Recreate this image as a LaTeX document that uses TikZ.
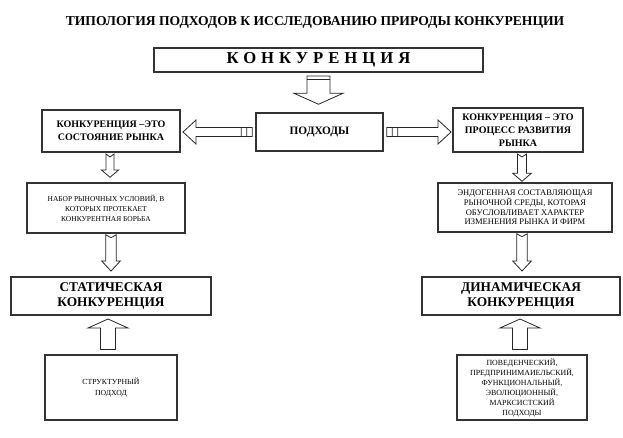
\documentclass[tikz,border=0pt]{standalone}
\usepackage{fontspec}
\setmainfont{Liberation Serif}
\usetikzlibrary{calc}
\tikzset{
  bigframe/.style={draw=black!80, line width=1.5pt, fill=white, inner sep=0pt, align=center},
  midframe/.style={draw=black!80, line width=1.1pt, fill=white, inner sep=0pt, align=center},
  lowframe/.style={draw=black!80, line width=0.9pt, fill=white, inner sep=0pt, align=center},
  arr/.style={draw=black!85, line width=0.6pt, fill=white, line join=miter},
}
\newcommand\ttlfont{\fontsize{10.2}{12}\selectfont\bfseries}
\newcommand\hdfont{\fontsize{7.5}{9.8}\selectfont\bfseries}
\newcommand\smfont{\fontsize{5.6}{7.5}\selectfont}
\newcommand\mdfont{\fontsize{6.4}{7.2}\selectfont}
\newcommand\bgfont{\fontsize{10}{10.8}\selectfont\bfseries}
% down arrow with notched tail: start, tip, shaft half, head half, head length
\newcommand\arrdown[5]{%
  \draw[arr] let \p1=(#1), \p2=(#2) in
   (\x1-#3,\y1) -- (\x1,\y1-2.2pt) -- (\x1+#3,\y1) -- (\x1+#3,\y2+#5) -- (\x1+#4,\y2+#5)
   -- (\x1,\y2) -- (\x1-#4,\y2+#5) -- (\x1-#3,\y2+#5) -- cycle;}
% up arrow: start (bottom), tip, shaft half, head half, head length
\newcommand\arrup[5]{%
  \draw[arr] let \p1=(#1), \p2=(#2) in
   (\x1-#3,\y1) -- (\x1+#3,\y1) -- (\x1+#3,\y2-#5) -- (\x1+#4,\y2-#5)
   -- (\x1,\y2) -- (\x1-#4,\y2-#5) -- (\x1-#3,\y2-#5) -- cycle;}
% left arrow with two small squares at the tail
\newcommand\arrleft[5]{%
  \draw[arr] let \p1=(#1), \p2=(#2) in
   (\x1,\y1+#3) -- (\x2+#5,\y1+#3) -- (\x2+#5,\y1+#4) -- (\x2,\y1) -- (\x2+#5,\y1-#4)
   -- (\x2+#5,\y1-#3) -- (\x1,\y1-#3) -- cycle
   (\x1,\y1-#3) rectangle (\x1+4.1pt,\y1+#3)
   (\x1+4.1pt,\y1-#3) rectangle (\x1+8.2pt,\y1+#3);}
\newcommand\arrright[5]{%
  \draw[arr] let \p1=(#1), \p2=(#2) in
   (\x1,\y1+#3) -- (\x2-#5,\y1+#3) -- (\x2-#5,\y1+#4) -- (\x2,\y1) -- (\x2-#5,\y1-#4)
   -- (\x2-#5,\y1-#3) -- (\x1,\y1-#3) -- cycle
   (\x1,\y1-#3) rectangle (\x1-4.1pt,\y1+#3)
   (\x1-4.1pt,\y1-#3) rectangle (\x1-8.2pt,\y1+#3);}
\begin{document}
\begin{tikzpicture}[x=0.75pt,y=-0.75pt]
\useasboundingbox (0,0) rectangle (623,437);

\node[font=\ttlfont] (title) at (315,22) {ТИПОЛОГИЯ ПОДХОДОВ К ИССЛЕДОВАНИЮ ПРИРОДЫ КОНКУРЕНЦИИ};

\node[bigframe, minimum width=246.75pt, minimum height=18pt,
      font=\fontsize{12.5}{14}\selectfont\bfseries\addfontfeature{LetterSpace=30}] (konk) at (318.5,60) {\raisebox{-0.8pt}{КОНКУРЕНЦИЯ}};

\node[midframe, minimum width=95.25pt, minimum height=28.5pt, font=\fontsize{8.5}{10}\selectfont\bfseries] (podh) at (319.5,132) {ПОДХОДЫ};

\node[bigframe, minimum width=103.5pt, minimum height=31.5pt, font=\hdfont] (lbox) at (111,131) {КОНКУРЕНЦИЯ –ЭТО\\СОСТОЯНИЕ РЫНКА};
\node[bigframe, minimum width=97.5pt, minimum height=33pt, font=\hdfont] (rbox) at (518,130) {КОНКУРЕНЦИЯ – ЭТО\\ПРОЦЕСС РАЗВИТИЯ\\РЫНКА};

\node[midframe, minimum width=118.5pt, minimum height=37.5pt, font=\smfont] (nabor) at (106,208) {НАБОР РЫНОЧНЫХ УСЛОВИЙ, В\\КОТОРЫХ ПРОТЕКАЕТ\\КОНКУРЕНТНАЯ БОРЬБА};
\node[midframe, minimum width=130.5pt, minimum height=36.75pt, font=\mdfont] (endog) at (525,207.5) {ЭНДОГЕННАЯ СОСТАВЛЯЮЩАЯ\\РЫНОЧНОЙ СРЕДЫ, КОТОРАЯ\\ОБУСЛОВЛИВАЕТ ХАРАКТЕР\\ИЗМЕНЕНИЯ РЫНКА И ФИРМ};

\node[bigframe, minimum width=150pt, minimum height=28.5pt, font=\bgfont] (stat) at (111,296) {СТАТИЧЕСКАЯ\\КОНКУРЕНЦИЯ};
\node[bigframe, minimum width=148.5pt, minimum height=28.5pt, font=\bgfont] (dinam) at (521,296) {ДИНАМИЧЕСКАЯ\\КОНКУРЕНЦИЯ};

\node[lowframe, minimum width=99pt, minimum height=48.75pt, font=\fontsize{5.8}{8.2}\selectfont] (strukt) at (111,387.5) {СТРУКТУРНЫЙ\\ПОДХОД};
\node[lowframe, minimum width=97.5pt, minimum height=48.75pt, font=\fontsize{5.9}{7.5}\selectfont] (poved) at (522,387.5) {ПОВЕДЕНЧЕСКИЙ,\\ПРЕДПРИНИМАИЕЛЬСКИЙ,\\ФУНКЦИОНАЛЬНЫЙ,\\ЭВОЛЮЦИОННЫЙ,\\МАРКСИСТСКИЙ\\ПОДХОДЫ};

% big arrow from КОНКУРЕНЦИЯ to ПОДХОДЫ
\coordinate (ka) at ($(konk.south)+(0,3)$);
\coordinate (kb) at ($(konk.south |- podh.north)+(0,-8)$);
\draw[arr] let \p1=(ka), \p2=(kb) in
   (\x1-8.6pt,\y1) -- (\x1+8.6pt,\y1) -- (\x1+8.6pt,\y2+8.25pt) -- (\x1+18.4pt,\y2+8.25pt)
   -- (\x1,\y2) -- (\x1-18.4pt,\y2+8.25pt) -- (\x1-8.6pt,\y2+8.25pt) -- cycle
   (\x1-8.6pt,\y1-2.6pt) -- (\x1+8.6pt,\y1-2.6pt);

% horizontal arrows
\arrleft{$(podh.west)+(-14,0)$}{$(lbox.east)+(2,0)$}{3.4pt}{9pt}{9.75pt}
\arrright{$(podh.east)+(14,0)$}{$(rbox.west)+(-1,0)$}{3.4pt}{9pt}{9.75pt}

% vertical arrows
\arrdown{$(lbox.south)+(-1,1)$}{$(lbox.south |- nabor.north)+(-1,-5)$}{3pt}{6.5pt}{5.5pt}
\arrdown{$(rbox.south)+(4,1)$}{$(rbox.south |- endog.north)+(4,-1)$}{3.4pt}{7pt}{6pt}
\arrdown{$(stat.north |- nabor.south)+(0,1)$}{$(stat.north)+(0,-5)$}{4pt}{7pt}{7.5pt}
\arrdown{$(dinam.north |- endog.south)+(1,1)$}{$(dinam.north)+(1,-5)$}{4pt}{7pt}{7.5pt}
\arrup{$(strukt.north)+(-3,-5)$}{$(stat.south)+(-3,3)$}{5.6pt}{15pt}{6.75pt}
\arrup{$(poved.north)+(-2,-5)$}{$(dinam.south)+(-1,3)$}{5.6pt}{15pt}{6.75pt}
\end{tikzpicture}
\end{document}
